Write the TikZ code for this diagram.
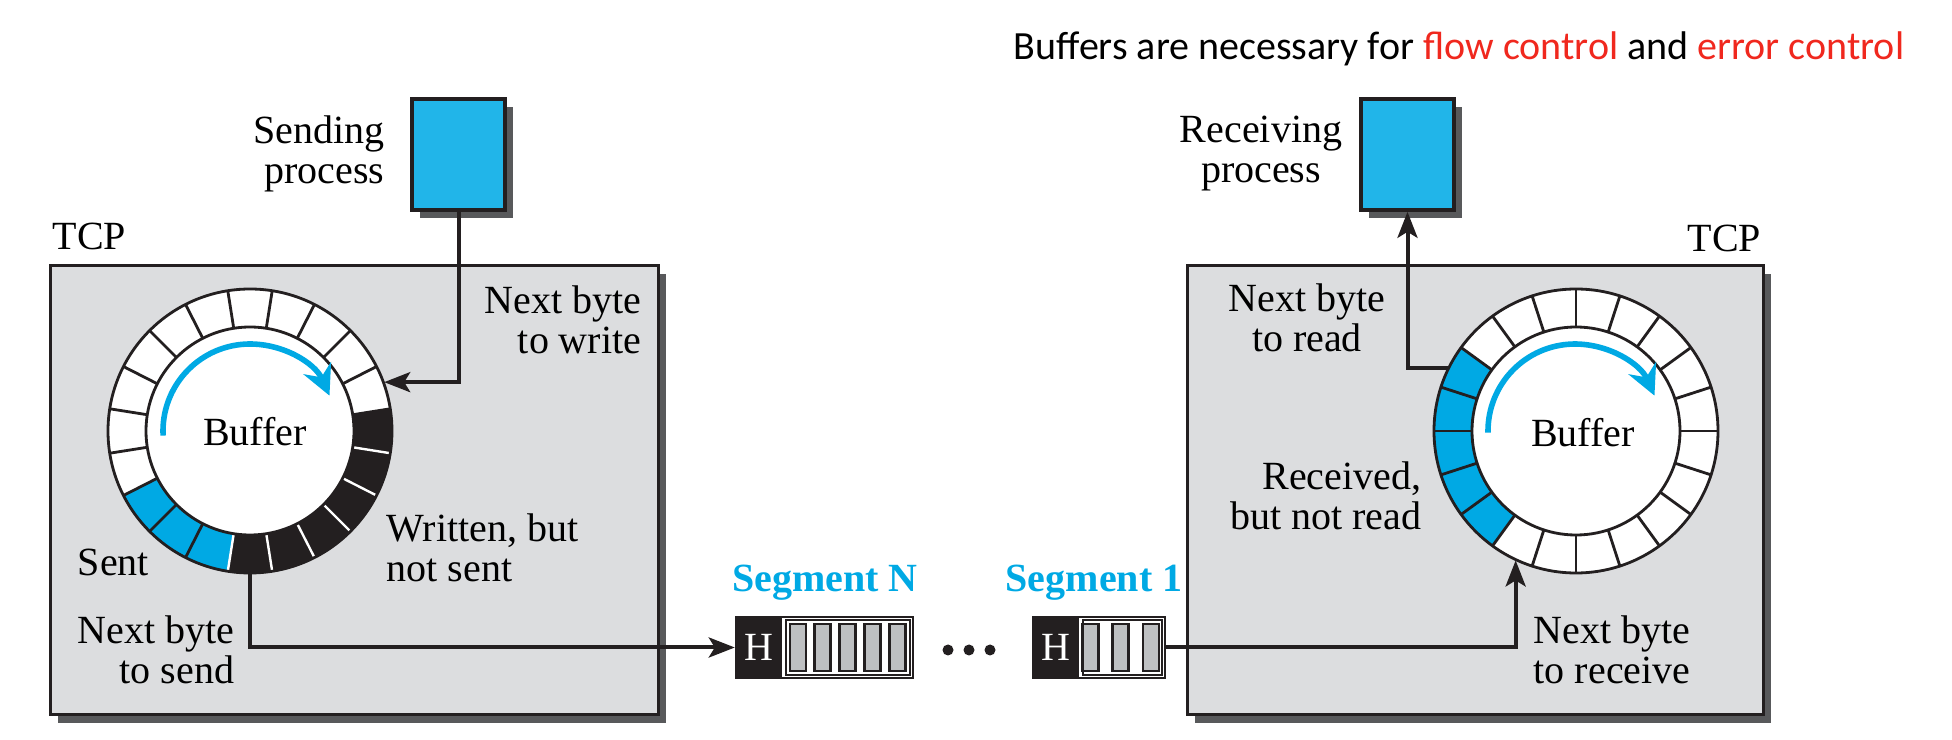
\documentclass[tikz,border=0pt]{standalone}
\usepackage{fontspec}
\setmainfont{Liberation Serif}
\newfontfamily\titlefont{Carlito}
\usetikzlibrary{arrows.meta,positioning,calc,shadows}
\definecolor{procblue}{RGB}{33,181,233}
\definecolor{segblue}{RGB}{0,169,228}
\definecolor{tcpgray}{RGB}{220,221,223}
\definecolor{shadowgray}{RGB}{88,89,91}
\definecolor{cellgray}{RGB}{190,192,194}
\definecolor{inkblack}{RGB}{35,31,32}
\definecolor{alertred}{RGB}{240,40,30}

\begin{document}
\begin{tikzpicture}[
    x=0.25pt, y=0.25pt,
    every node/.style={font=\fontsize{10}{10}\selectfont, inner sep=0pt},
    tcpbox/.style={draw=inkblack, line width=0.75pt, fill=tcpgray, minimum height=112.25pt,
      drop shadow={shadow xshift=2pt, shadow yshift=-2pt, fill=shadowgray, opacity=1}},
    procbox/.style={draw=inkblack, line width=0.9pt, fill=procblue, minimum width=23.25pt, minimum height=27.75pt,
      drop shadow={shadow xshift=2pt, shadow yshift=-2pt, fill=shadowgray, opacity=1}},
    ring/.style={circle, minimum size=71pt},
    core/.style={circle, draw=inkblack, line width=0.7pt, fill=white, minimum size=52pt},
    link/.style={draw=inkblack, line width=1pt},
    tip/.style={-{Stealth[length=6.5pt, width=5pt, inset=1.5pt]}},
    flow/.style={segblue, line width=1.4pt, -{Stealth[length=7.5pt, width=7.5pt, inset=2.5pt]}},
    segbox/.style={draw=inkblack, line width=0.6pt, fill=white, minimum height=15.25pt},
    hcell/.style={fill=inkblack, text=white, minimum width=11.5pt, minimum height=15.25pt},
    cell/.style={draw=inkblack, line width=0.7pt, fill=cellgray, minimum width=4pt, minimum height=11.75pt},
    segtitle/.style={font=\fontsize{10}{10}\selectfont\bfseries, text=segblue}
  ]
  \useasboundingbox (0,0) rectangle (1952,740);

  \node[font=\titlefont\fontsize{10}{12}\selectfont, anchor=base east] (note) at (1905,680)
    {Buffers are necessary for \textcolor{alertred}{flow control} and \textcolor{alertred}{error control}};

  % the two TCP boxes and the processes
  \node[tcpbox, minimum width=152pt] (tcpL) at (354,249.5) {};
  \node[tcpbox, minimum width=144pt] (tcpR) at (1475,249.5) {};
  \node[procbox] (sendproc) at (458.5,585.5) {};
  \node[procbox] (recvproc) at (1407.5,585.5) {};
  \node[anchor=base west] (tcpLlbl) at (52,490) {TCP};
  \node[anchor=base east] (tcpRlbl) at (1762,488) {TCP};
  \node[align=right, anchor=north east] (sendlbl) at (385,625) {Sending\\process};
  \node[align=center, anchor=north] (recvlbl) at (1261,625) {Receiving\\process};

  % sending buffer
  \node[ring] (ringL) at (250,309) {};
  \foreach \col [count=\i from 0] in {white,white,white,white,white,white,white,white,white,white,white,
      segblue,segblue,segblue,inkblack,inkblack,inkblack,inkblack,inkblack,inkblack} {
    \pgfmathsetmacro\a{9+18*\i}
    \fill[\col] ($(ringL)+(\a:142)$) arc[start angle=\a, delta angle=18, radius=142]
      -- ($(ringL)+(\a+18:104)$) arc[start angle=\a+18, delta angle=-18, radius=104] -- cycle;
  }
  \foreach \a in {9,27,...,243}
    \draw[inkblack, line width=0.7pt] ($(ringL)+(\a:104)$) -- ($(ringL)+(\a:142)$);
  \foreach \a in {261,279,...,351}
    \draw[white, line width=0.6pt] ($(ringL)+(\a:104)$) -- ($(ringL)+(\a:142)$);
  \draw[inkblack, line width=0.7pt] (ringL) circle[radius=142];
  \node[core] (coreL) at (ringL) {};
  \node (bufL) at (255,308) {Buffer};
  \draw[flow] ($(ringL)+(183:87)$) arc[start angle=183, end angle=24, radius=87];

  % receiving buffer
  \node[ring] (ringR) at (1576,309) {};
  \foreach \col [count=\i from 0] in {white,white,white,white,white,white,white,white,
      segblue,segblue,segblue,segblue,segblue,white,white,white,white,white,white,white} {
    \pgfmathsetmacro\a{18*\i}
    \fill[\col] ($(ringR)+(\a:142)$) arc[start angle=\a, delta angle=18, radius=142]
      -- ($(ringR)+(\a+18:104)$) arc[start angle=\a+18, delta angle=-18, radius=104] -- cycle;
  }
  \foreach \a in {0,18,...,342}
    \draw[inkblack, line width=0.7pt] ($(ringR)+(\a:104)$) -- ($(ringR)+(\a:142)$);
  \draw[inkblack, line width=0.7pt] (ringR) circle[radius=142];
  \node[core] (coreR) at (ringR) {};
  \node (bufR) at (1583,307) {Buffer};
  \draw[flow] ($(ringR)+(181:88)$) arc[start angle=181, end angle=24, radius=87];

  % labels inside the boxes
  \node[align=right, anchor=north east] (writelbl) at (642,455) {Next byte\\to write};
  \node[align=left, anchor=north west] (unsentlbl) at (386,227) {Written, but\\not sent};
  \node[anchor=base west] (sentlbl) at (77,165) {Sent};
  \node[align=right, anchor=north east] (nextsendlbl) at (235,125) {Next byte\\to send};
  \node[align=center, anchor=north] (readlbl) at (1307,457) {Next byte\\to read};
  \node[align=right, anchor=north east] (unreadlbl) at (1422,279) {Received,\\but not read};
  \node[align=left, anchor=north west] (nextrecvlbl) at (1533,125) {Next byte\\to receive};

  % segments on the way
  \node[segbox, minimum width=44.25pt] (segN) at (824.5,92.5) {};
  \node[hcell] (hN) at (759,92.5) {H};
  \draw[inkblack, line width=0.5pt] ($(hN.north east)+(3,-4)$) rectangle ($(segN.south east)+(-4,4)$);
  \foreach \k in {0,...,4}
    \node[cell] (cN\k) at (798+24.8*\k,92.5) {};
  \node[segtitle, anchor=base] (segNlbl) at (825,148) {Segment N};

  \node[segbox, minimum width=33pt] (seg1) at (1099,92.5) {};
  \node[hcell] (h1) at (1056,92.5) {H};
  \draw[inkblack, line width=0.5pt] ($(h1.north east)+(3,-4)$) rectangle ($(seg1.south east)+(-4,4)$);
  \foreach \k in {0,...,2}
    \node[cell] (c1\k) at (1090.5+30.2*\k,92.5) {};
  \node[segtitle, anchor=base] (seg1lbl) at (1094,148) {Segment 1};

  \foreach \x in {948,969,990}
    \fill[inkblack] (\x,90) circle[radius=5.5];

  % connectors
  \draw[link, tip] (sendproc.south) |- (ringL.20);
  \draw[link, tip] (ringL.south) |- (segN.west);
  \draw[link, tip] (seg1.east) -| (ringR.245);
  \draw[link, tip] (ringR.154) -| (recvproc.south);
\end{tikzpicture}
\end{document}
